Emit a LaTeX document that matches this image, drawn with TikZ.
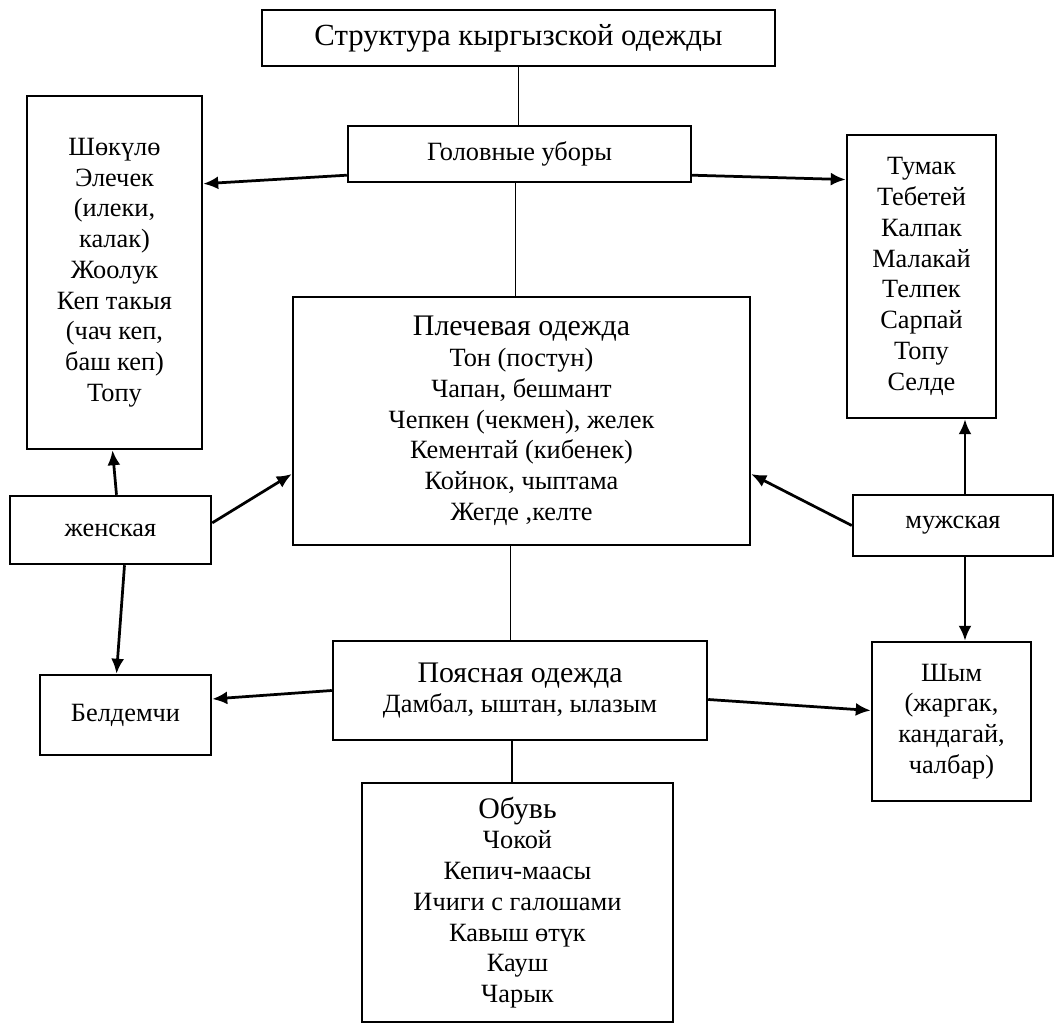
\documentclass[tikz,border=0pt]{standalone}
\usepackage{fontspec}
\setmainfont{Liberation Serif}
\usetikzlibrary{arrows.meta,positioning,calc}

\begin{document}
\begin{tikzpicture}[x=0.02cm, y=-0.02cm,
    box/.style={draw, line width=0.5mm, inner sep=0pt, align=center, font=\fontsize{15}{17.5}\selectfont},
    big/.style={font=\fontsize{17.5}{19}\selectfont},
    link/.style={line width=0.22mm},
    arr/.style={line width=0.55mm, -{Latex[length=3mm,width=2.6mm]}}]
    \useasboundingbox (0,0) rectangle (1056,1034);

    % Title and head wear
    \node[box, big, minimum width=10.26cm, minimum height=1.12cm] (title) at (518.5,38) {\raisebox{-3pt}{Структура кыргызской одежды}};
    \node[box, minimum width=6.86cm, minimum height=1.12cm] (hats) at (519.5,154) {Головные уборы};
    \node[box, minimum width=3.5cm, minimum height=7.06cm] (womhats) at (114.5,272.5)
        {Шөкүлө\\Элечек\\(илеки,\\калак)\\Жоолук\\Кеп такыя\\(чач кеп,\\баш кеп)\\Топу};
    \node[box, minimum width=2.98cm, minimum height=5.66cm] (menhats) at (921.5,276.5)
        {Тумак\\Тебетей\\Калпак\\Малакай\\Телпек\\Сарпай\\Топу\\Селде};

    % Middle
    \node[box, minimum width=9.14cm, minimum height=4.96cm] (upper) at (521.5,421)
        {{\fontsize{17}{19}\selectfont Плечевая одежда}\\Тон (постун)\\Чапан, бешмант\\Чепкен (чекмен), желек\\Кементай (кибенек)\\Койнок, чыптама\\Жегде ,келте};
    \node[box, minimum width=4.02cm, minimum height=1.36cm] (women) at (110.5,530) {женская};
    \node[box, minimum width=4.0cm, minimum height=1.22cm] (men) at (953,525.5) {мужская};

    % Bottom
    \node[box, minimum width=7.48cm, minimum height=1.98cm] (waist) at (520,690.5)
        {{\fontsize{17}{19}\selectfont Поясная одежда}\\Дамбал, ыштан, ылазым};
    \node[box, minimum width=3.42cm, minimum height=1.6cm] (beldemchi) at (125.5,715) {Белдемчи};
    \node[box, minimum width=3.18cm, minimum height=3.18cm] (shym) at (951.5,721.5)
        {Шым\\(жаргак,\\кандагай,\\чалбар)};
    \node[box, minimum width=6.22cm, minimum height=4.78cm] (shoes) at (517.5,902.5)
        {{\fontsize{17}{19}\selectfont Обувь}\\Чокой\\Кепич-маасы\\Ичиги с галошами\\Кавыш өтүк\\Кауш\\Чарык};

    % Plain links
    \draw[link] (title.south) -- (title.south |- hats.north);
    \draw[link] ($(hats.south)+(-4,0)$) -- ($(hats.south |- upper.north)+(-4,0)$);
    \draw[link] ($(upper.south)+(-11,0)$) -- ($(upper.south |- waist.north)+(-11,0)$);
    \draw[link] ($(waist.south)+(-8,0)$) -- ($(waist.south |- shoes.north)+(-8,0)$);

    % Arrows
    \draw[arr] (hats.187) -- (womhats.45);
    \draw[arr] (hats.-7) -- (menhats.128);
    \draw[arr] ($(women.north)+(6,0)$) -- ($(womhats.south)+(-2,0)$);
    \draw[arr] (women.4) -- (upper.193);
    \draw[arr] ($(women.south)+(14,0)$) -- ($(beldemchi.north)+(-9,0)$);
    \draw[arr] (waist.west) -- ($(beldemchi.east)+(0,-16)$);
    \draw[arr] ($(waist.east)+(0,9)$) -- ($(shym.west)+(0,-11)$);
    \draw[arr] (men.west) -- (upper.-13);
    \coordinate (mx) at ($(men.north)+(12,0)$);
    \draw[arr] (mx) -- (mx |- menhats.south);
    \draw[arr] (mx |- men.south) -- (mx |- shym.north);
\end{tikzpicture}
\end{document}
